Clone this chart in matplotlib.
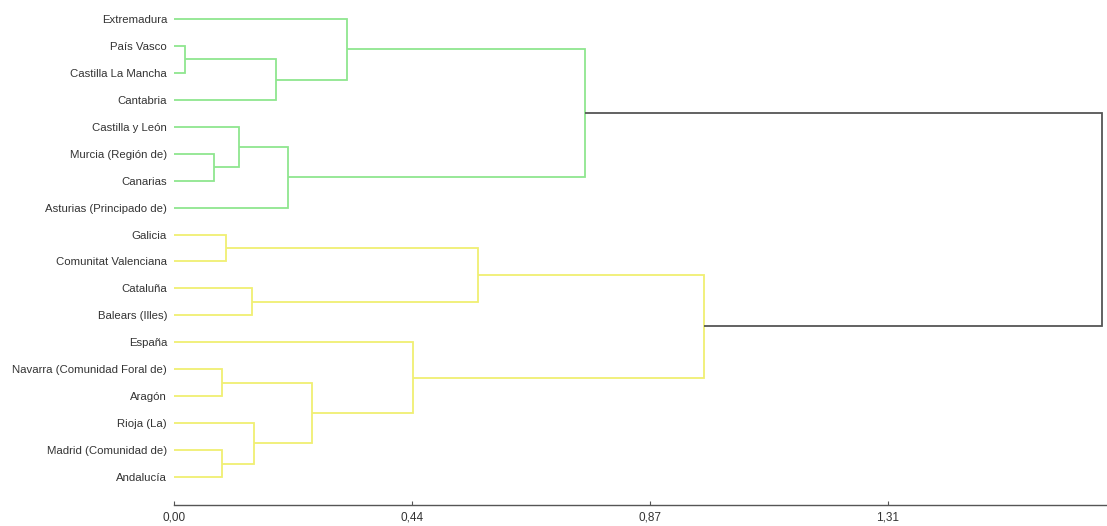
import matplotlib
matplotlib.use("Agg")
import matplotlib.pyplot as plt

# Leaves, top to bottom
regions = [
    "Extremadura", "País Vasco", "Castilla La Mancha", "Cantabria",
    "Castilla y León", "Murcia (Región de)", "Canarias", "Asturias (Principado de)",
    "Galicia", "Comunitat Valenciana", "Cataluña", "Balears (Illes)",
    "España", "Navarra (Comunidad Foral de)", "Aragón", "Rioja (La)",
    "Madrid (Comunidad de)", "Andalucía",
]

# Agglomeration steps: (child a, child b, distance); new node ids start at len(regions)
merge_a = [1, 18, 0, 5, 4, 22, 20, 8, 10, 25, 13, 16, 15, 28, 12, 27, 24]
merge_b = [2, 3, 19, 6, 21, 7, 23, 9, 11, 26, 14, 17, 29, 30, 31, 32, 33]
merge_h = [0.020, 0.188, 0.318, 0.074, 0.119, 0.210, 0.756,
           0.096, 0.143, 0.559, 0.088, 0.088, 0.147, 0.254, 0.439, 0.975, 1.705]

tick_values = [0.0, 0.4375, 0.875, 1.3125]
tick_labels = ["0,00", "0,44", "0,87", "1,31"]

GREEN = "#8fe68f"
YELLOW = "#f0ef72"
ROOT = "#555555"

n = len(regions)
pos_y = {i: float(i) for i in range(n)}
pos_x = {i: 0.0 for i in range(n)}
children = {}
for k, (a, b, h) in enumerate(zip(merge_a, merge_b, merge_h)):
    node = n + k
    children[node] = (a, b)
    pos_y[node] = (pos_y[a] + pos_y[b]) / 2
    pos_x[node] = h

root = n + len(merge_h) - 1
green_top, yellow_top = children[root]


def descendants(node):
    out = {node}
    if node in children:
        for c in children[node]:
            out |= descendants(c)
    return out


green_nodes = descendants(green_top)
yellow_nodes = descendants(yellow_top)

fig = plt.figure(figsize=(11.07, 5.26), dpi=100)
ax = fig.add_axes([174 / 1107, 1 - 505 / 526, 1 - 174 / 1107, 505 / 526])

for node, (a, b) in children.items():
    if node == root:
        col = ROOT
    elif node in green_nodes:
        col = GREEN
    else:
        col = YELLOW
    h = pos_x[node]
    ax.plot([pos_x[a], h, h, pos_x[b]], [pos_y[a], pos_y[a], pos_y[b], pos_y[b]],
            color=col, lw=1.3, solid_joinstyle="miter", solid_capstyle="butt")

spacing = (477 - 19) / 17
ax.set_ylim(n - 1 + (505 - 477) / spacing, -19 / spacing)
ax.set_xlim(0, (1107 - 174) / 544)

ax.set_yticks(range(n))
ax.set_yticklabels(regions, fontsize=8.2, color="#333333", family="Liberation Sans")
ax.tick_params(axis="y", length=0, pad=5)

ax.set_xticks(tick_values)
ax.set_xticklabels(tick_labels, fontsize=8.5, color="#333333", family="Liberation Sans")
ax.tick_params(axis="x", direction="in", length=3, width=0.8, color="#555555", pad=5)

for side in ("top", "right", "left"):
    ax.spines[side].set_visible(False)
ax.spines["bottom"].set_color("#555555")
ax.spines["bottom"].set_linewidth(1.0)

fig.savefig("out.png", dpi=100)
